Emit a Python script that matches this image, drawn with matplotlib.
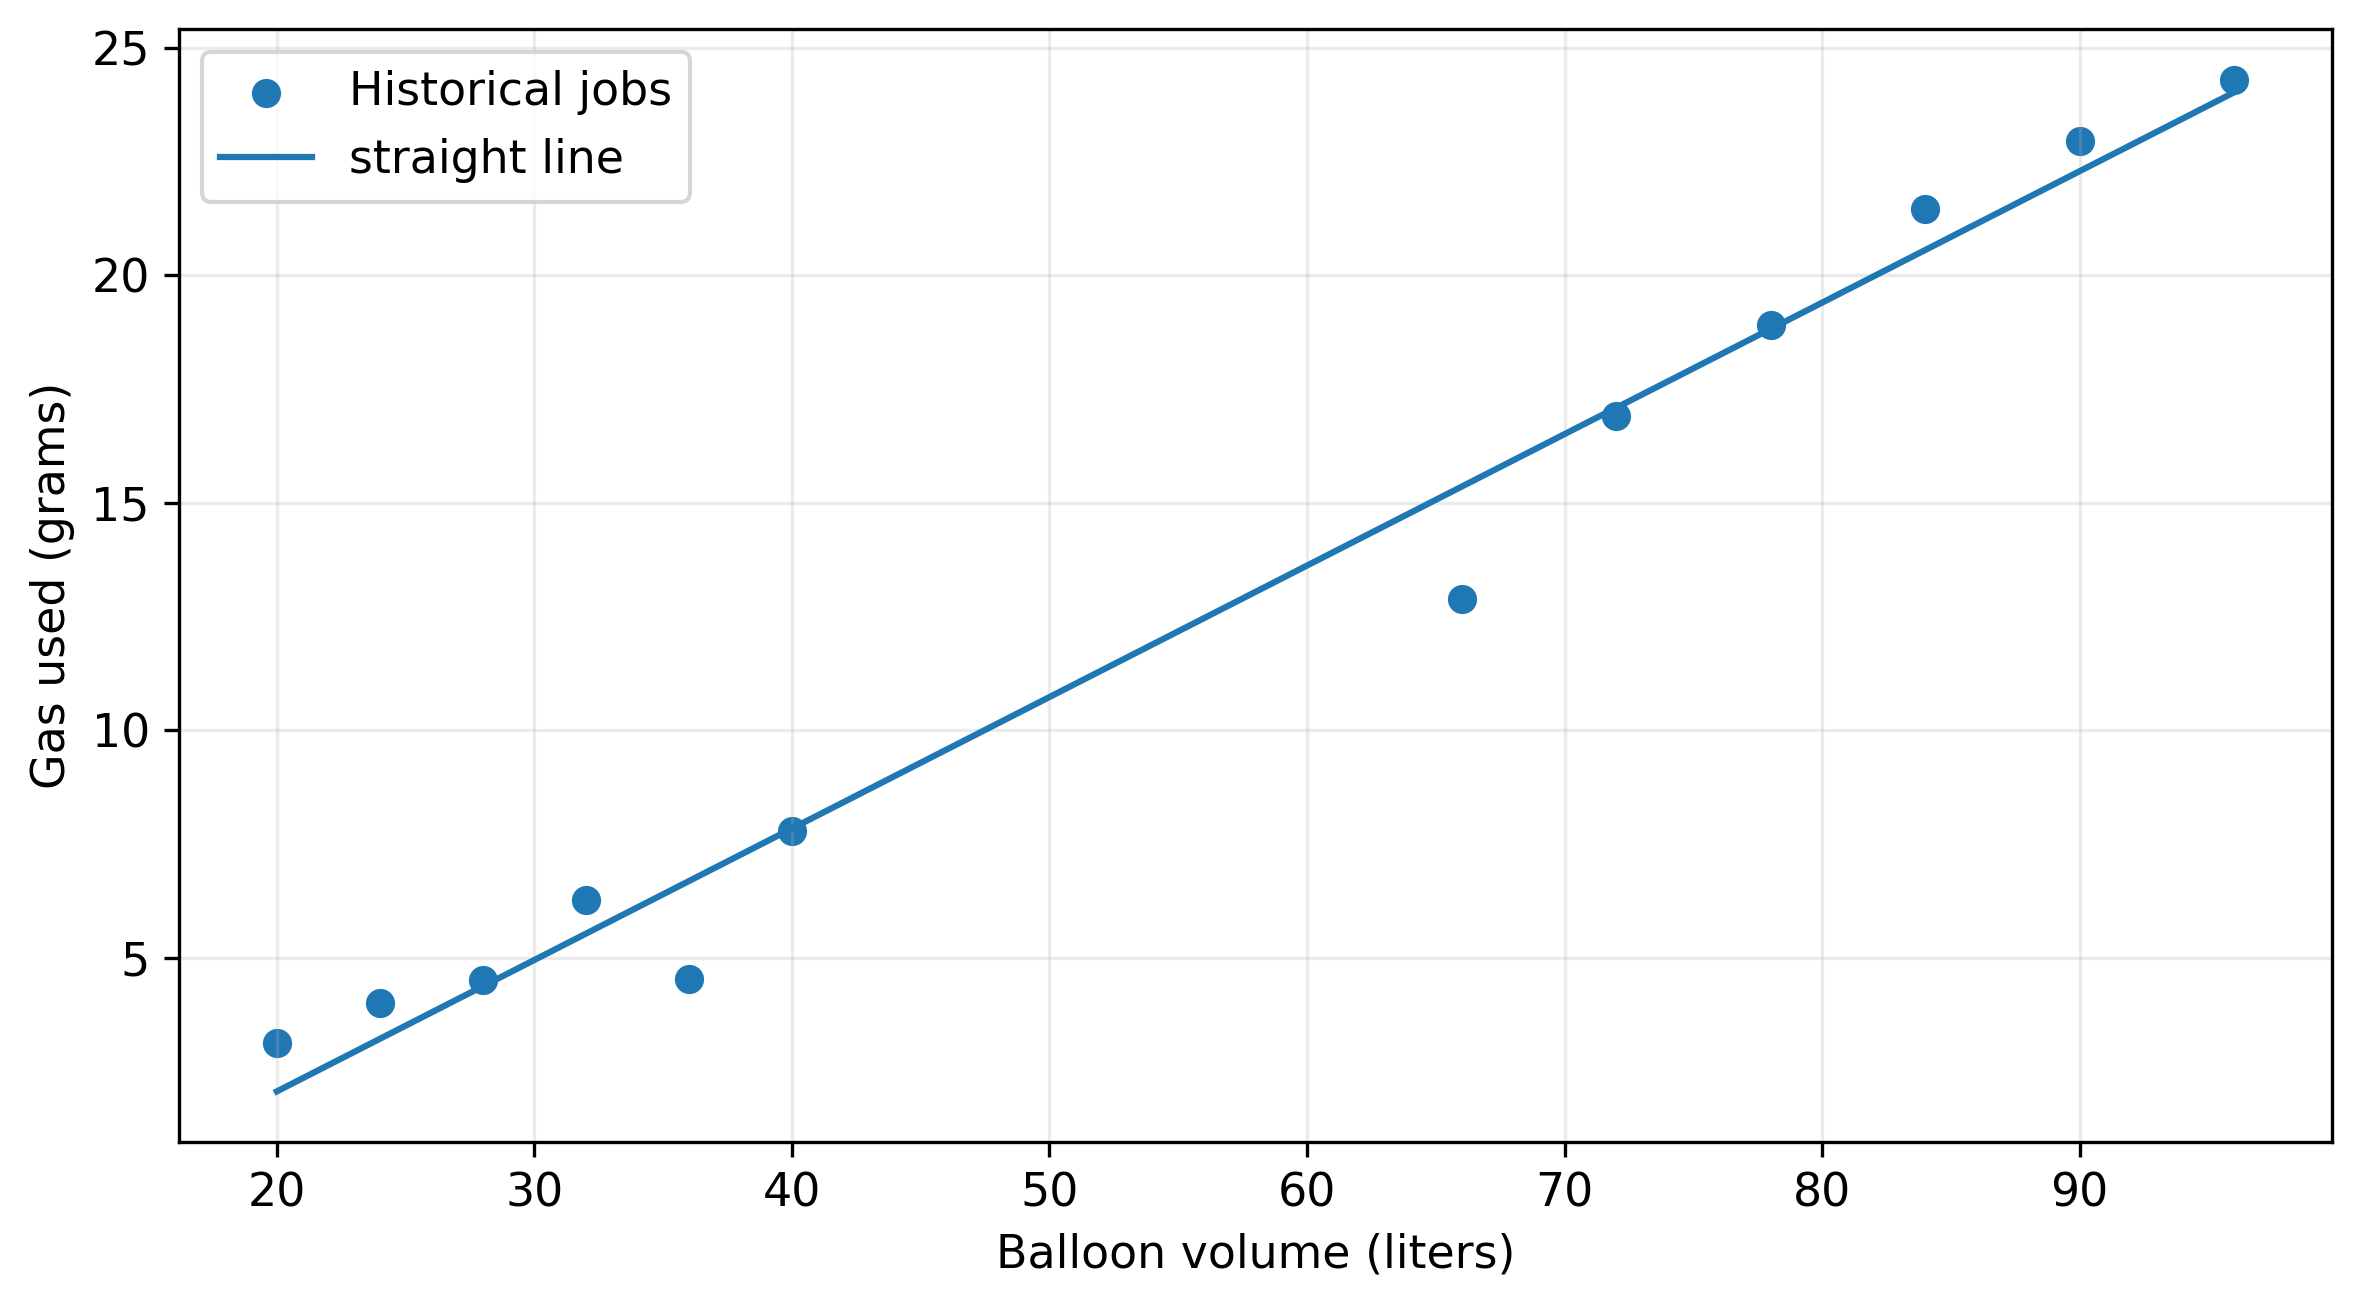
import matplotlib
matplotlib.use("Agg")
import matplotlib.pyplot as plt

plt.rcParams["font.size"] = 11

# historical jobs
volume = [20, 24, 28, 32, 36, 40, 66, 72, 78, 84, 90, 96]
gas = [3.12, 4.01, 4.50, 6.26, 4.54, 7.78, 12.88, 16.90, 18.90, 21.46, 22.95, 24.30]

# straight line endpoints
line_x = [20, 96]
line_y = [2.06, 24.02]

fig = plt.figure(figsize=(2361 / 300, 1309 / 300), dpi=300)
ax = fig.add_axes([179 / 2361, 1 - 1142 / 1309, (2332 - 179) / 2361, (1142 - 29) / 1309])

ax.scatter(volume, gas, label="Historical jobs")
ax.plot(line_x, line_y, label="straight line")

ax.set_xlabel("Balloon volume (liters)")
ax.set_ylabel("Gas used (grams)")
ax.grid(True, alpha=0.25)
ax.legend(loc="upper left")

fig.savefig("out.png", dpi=300)
